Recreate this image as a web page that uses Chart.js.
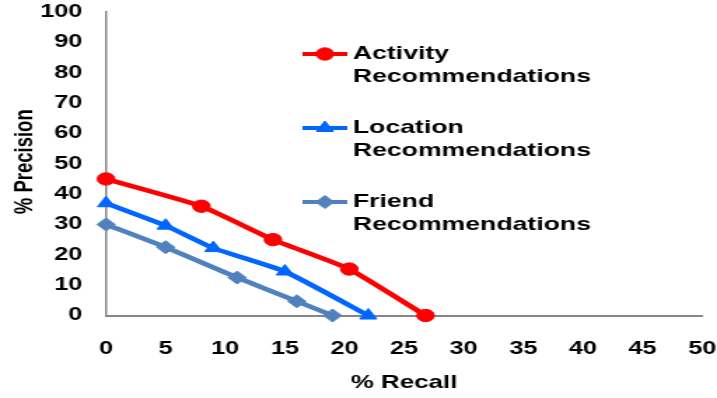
<!DOCTYPE html>
<html>
<head>
<meta charset="utf-8">
<script src="https://cdn.jsdelivr.net/npm/chart.js@4/dist/chart.umd.min.js"></script>
<style>
  html, body { margin: 0; padding: 0; background: #ffffff; overflow: hidden; }
  /* the chart is laid out narrow and widened horizontally */
  #wrap { position: absolute; left: 0; top: 0; width: 512px; height: 398px;
          transform: scaleX(1.4004); transform-origin: 0 0; }
</style>
</head>
<body>
<div id="wrap"><canvas id="chart"></canvas></div>
<script>
// Precision / recall curves for each recommendation type
const seriesLabels = [
  ['Activity', 'Recommendations'],
  ['Location', 'Recommendations'],
  ['Friend', 'Recommendations']
];
const activityRecall    = [0, 8, 14, 20.4, 26.8];
const activityPrecision = [45, 36, 25, 15.3, 0];
const locationRecall    = [0, 5, 9, 15, 22];
const locationPrecision = [37, 29.6, 22.2, 14.5, 0];
const friendRecall      = [0, 5, 11, 16, 19];
const friendPrecision   = [30, 22.5, 12.5, 4.7, 0];
const recallTicks    = [0, 5, 10, 15, 20, 25, 30, 35, 40, 45, 50];
const precisionTicks = [0, 10, 20, 30, 40, 50, 60, 70, 80, 90, 100];
const xTitle = '% Recall';
const yTitle = '% Precision';

const pairs = (xs, ys) => xs.map((x, i) => ({ x: x, y: ys[i] }));

const FONT = '"Liberation Sans", Arial, sans-serif';

function series(label, xs, ys, color, style, radius) {
  return {
    label: label.join(' '),
    legendLines: label,
    data: pairs(xs, ys),
    borderColor: color,
    backgroundColor: color,
    borderWidth: 4.5,
    pointStyle: style,
    pointRadius: radius,
    pointBorderWidth: 1,
    pointBorderColor: color,
    pointBackgroundColor: color,
    tension: 0.15,
    clip: false
  };
}

// Legend with two-line labels, placed inside the plot on the right
const sideLegend = {
  id: 'sideLegend',
  afterDraw(chart) {
    const ctx = chart.ctx;
    const rows = [54, 128, 202];
    chart.data.datasets.forEach((ds, i) => {
      const y = rows[i];
      ctx.save();
      ctx.strokeStyle = ds.borderColor;
      ctx.fillStyle = ds.borderColor;
      ctx.lineWidth = 4;
      ctx.beginPath();
      ctx.moveTo(216, y);
      ctx.lineTo(248, y);
      ctx.stroke();
      ctx.lineWidth = 1;
      Chart.helpers.drawPoint(ctx, {
        pointStyle: ds.pointStyle, radius: ds.pointRadius, rotation: 0, borderWidth: 1
      }, 232, y);
      ctx.fillStyle = '#000000';
      ctx.font = 'bold 19px ' + FONT;
      ctx.textAlign = 'left';
      ctx.textBaseline = 'middle';
      ctx.fillText(ds.legendLines[0], 252, y);
      ctx.fillText(ds.legendLines[1], 252, y + 22.5);
      ctx.restore();
    });

    // axis titles
    const area = chart.chartArea;
    ctx.save();
    ctx.fillStyle = '#000000';
    ctx.font = 'bold 18.5px ' + FONT;
    ctx.textAlign = 'center';
    ctx.textBaseline = 'middle';
    ctx.fillText(xTitle, (area.left + area.right) / 2, 382.5);
    ctx.translate(17.5, (area.top + area.bottom) / 2 - 2);
    ctx.rotate(-Math.PI / 2);
    ctx.fillText(yTitle, 0, 0);
    ctx.restore();
  }
};

new Chart(document.getElementById('chart'), {
  type: 'line',
  data: {
    datasets: [
      series(seriesLabels[0], activityRecall, activityPrecision, '#FF0000', 'circle', 6.2),
      series(seriesLabels[1], locationRecall, locationPrecision, '#0066FF', 'triangle', 7),
      series(seriesLabels[2], friendRecall, friendPrecision, '#4F81BD', 'rectRot', 6.5)
    ]
  },
  options: {
    responsive: true,
    maintainAspectRatio: false,
    animation: false,
    events: [],
    layout: { padding: { top: 12, right: 10.6, left: 0, bottom: 0 } },
    plugins: {
      legend: { display: false },
      tooltip: { enabled: false },
      title: { display: false }
    },
    scales: {
      x: {
        type: 'linear',
        min: 0,
        max: 50,
        afterBuildTicks: s => { s.ticks = recallTicks.map(v => ({ value: v })); },
        afterFit: s => { s.height = 82.5; s.paddingLeft = 0; s.paddingRight = 0; },
        grid: { display: false },
        border: { display: true, color: '#868686', width: 2 },
        ticks: {
          padding: 15,
          maxRotation: 0,
          autoSkip: false,
          color: '#000000',
          font: { family: FONT, size: 18, weight: 'bold' }
        }
      },
      y: {
        type: 'linear',
        min: 0,
        max: 100,
        afterBuildTicks: s => { s.ticks = precisionTicks.map(v => ({ value: v })); },
        afterFit: s => { s.width = 75.7; s.paddingTop = 0; s.paddingBottom = 0; },
        grid: { display: false },
        border: { display: true, color: '#868686', width: 1.5 },
        ticks: {
          padding: 9,
          autoSkip: false,
          color: '#000000',
          font: { family: FONT, size: 18, weight: 'bold' }
        }
      }
    }
  },
  plugins: [sideLegend]
});
</script>
</body>
</html>
